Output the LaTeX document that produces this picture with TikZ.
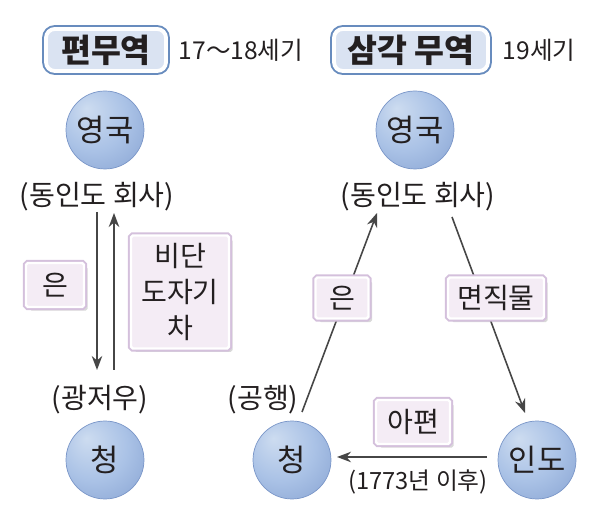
\documentclass[tikz,border=0pt]{standalone}
\usepackage{fontspec}
\setmainfont{Noto Sans CJK KR}
\usetikzlibrary{positioning, arrows.meta, shadows, calc}

\definecolor{ink}{RGB}{35,31,32}
\definecolor{arrowgray}{RGB}{70,70,70}
\definecolor{ballhi}{RGB}{205,220,240}
\definecolor{ballmid}{RGB}{170,194,230}
\definecolor{balledge}{RGB}{132,160,208}
\definecolor{ballline}{RGB}{122,150,200}
\definecolor{titlefill}{RGB}{218,227,242}
\definecolor{titleedge}{RGB}{104,140,190}
\definecolor{goodsfill}{RGB}{244,236,245}
\definecolor{goodsedge}{RGB}{212,192,220}

\pgfdeclareradialshading{globe}{\pgfpoint{-12bp}{14bp}}{%
  color(0bp)=(ballhi); color(22bp)=(ballmid); color(44bp)=(balledge); color(60bp)=(balledge)}

\begin{document}
\begin{tikzpicture}[
    x=0.02cm, y=0.02cm,
    country/.style={circle, minimum size=1.56cm, inner sep=0pt, shading=globe,
        draw=ballline, thin, text=ink, font=\fontsize{17.5}{20}\selectfont},
    tag/.style={inner sep=1pt, text=ink, font=\fontsize{16}{19}\selectfont},
    era/.style={inner sep=1pt, text=ink, font=\fontsize{14}{17}\selectfont},
    title/.style={rounded corners=5pt, fill=titlefill, draw=white, line width=2.2pt,
        drop shadow={shadow xshift=1.5pt, shadow yshift=-1.5pt, opacity=0.4, fill=titleedge},
        preaction={draw=titleedge, line width=4.4pt},
        minimum height=0.84cm, inner sep=0pt, text=ink, font=\bfseries\fontsize{18.5}{22}\selectfont},
    goods/.style={rounded corners=1pt, fill=goodsfill, draw=white, line width=1.4pt,
        drop shadow={shadow xshift=2pt, shadow yshift=-2pt, opacity=0.3, fill=gray},
        preaction={draw=goodsedge, line width=3.6pt},
        minimum height=0.88cm, inner sep=0pt, text=ink, font=\fontsize{16}{20.5}\selectfont},
    arrow/.style={-{Stealth[length=8pt, width=6pt]}, line width=0.9pt, draw=arrowgray},
]
\useasboundingbox (0,0) rectangle (598,516);

% Titles
\node[title, minimum width=2.4cm] (tpyeon) at (106,466) {편무역};
\node[era] (epyeon) at (241,466) {17～18세기};
\node[title, minimum width=3.08cm] (tsamgak) at (411,466) {삼각 무역};
\node[era] (esamgak) at (539,466) {19세기};

% Left: one-way trade
\node[country] (leng) at (105,386) {영국};
\node[tag] (leic) at (97,319) {(동인도 회사)};
\node[tag] (lgz) at (100,116) {(광저우)};
\node[country] (lqing) at (105,56) {청};

\draw[arrow] ($(leic)+(0,-15)$) -- ($(lgz)+(-3,30)$);
\draw[arrow] ($(lgz)+(14,30)$) -- ($(leic)+(17,-16)$);

\node[goods, minimum width=1.16cm] (lsilver) at (55,231) {은};
\node[goods, minimum width=1.96cm, minimum height=2.26cm, align=center] (lgoods) at (180,224) {비단\\도자기\\차};

% Right: triangular trade
\node[country] (reng) at (415,386) {영국};
\node[tag] (reic) at (418,319) {(동인도 회사)};
\node[tag] (rgh) at (263,116) {(공행)};
\node[country] (rqing) at (292,56) {청};
\node[country] (rind) at (537,56) {인도};

\draw[arrow] ($(rqing)+(10,48)$) -- ($(reic)+(-41,-16)$);
\draw[arrow] ($(reic)+(34,-20)$) -- ($(rind)+(-12,47)$);
\draw[arrow] ($(rind)+(-50,3)$) -- ($(rqing)+(45,3)$);

\node[goods, minimum width=1.06cm, minimum height=0.82cm] (rsilver) at (342,218) {은};
\node[goods, minimum width=1.92cm, minimum height=0.82cm] (rcotton) at (496,218) {면직물};
\node[goods, minimum width=1.48cm] (ropium) at (413,94) {아편};
\node[era, font=\fontsize{13.5}{16}\selectfont] (ryear) at (418,34) {(1773년 이후)};

\end{tikzpicture}
\end{document}
